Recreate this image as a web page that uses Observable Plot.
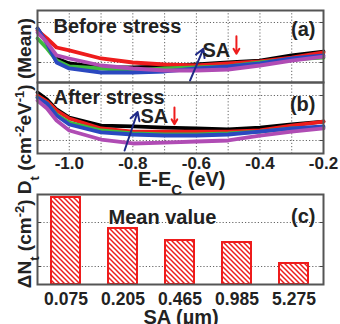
<!DOCTYPE html>
<html><head><meta charset="utf-8">
<script src="https://cdn.jsdelivr.net/npm/d3@7"></script>
<script src="https://cdn.jsdelivr.net/npm/@observablehq/plot@0.6"></script>
<style>
body{margin:0;background:#fff;}
#wrap{position:relative;width:340px;height:324px;overflow:hidden;}
#wrap > *{position:absolute;left:0;}
</style></head><body><div id="wrap"></div>
<script>
// ---- data (Dt in units of 1e11 cm^-2 eV^-1, dNt in 1e11 cm^-2) ----
const energy = [-1.1,-1.07,-1.04,-1.0,-0.9,-0.8,-0.7,-0.6,-0.5,-0.4,-0.3,-0.2];
const saLabels = ["0.075","0.205","0.465","0.985","5.275"];
const seriesColors = ["#000000","#ee1c1c","#3dba3d","#2a48c0","#b04cb4"];

const before_0075 = [7.08,3.16,1.26,0.944,0.750,0.750,0.794,0.891,1.0,1.12,1.50,1.88];
const before_0205 = [6.31,3.98,2.37,2.0,1.26,1.0,0.891,0.841,0.944,1.06,1.33,1.78];
const before_0465 = [3.98,2.24,1.12,0.794,0.708,0.631,0.708,0.750,0.794,1.0,1.19,1.33];
const before_0985 = [7.08,2.99,1.0,0.708,0.562,0.562,0.596,0.708,0.794,0.944,1.26,1.50];
const before_5275 = [5.62,3.16,1.50,1.26,0.841,0.708,0.631,0.631,0.668,0.841,1.12,1.41];

const after_0075 = [11.66,8.15,4.89,3.24,2.15,2.05,1.94,1.85,1.76,1.94,2.27,2.64];
const after_0205 = [10.0,7.36,4.64,3.08,1.85,1.58,1.58,1.58,1.58,1.67,2.15,2.64];
const after_0465 = [9.03,6.64,3.78,2.51,1.67,1.43,1.36,1.36,1.43,1.58,1.85,1.94];
const after_0985 = [9.03,6.64,3.59,2.27,1.51,1.36,1.29,1.29,1.36,1.58,1.85,2.05];
const after_5275 = [7.74,5.14,2.78,1.67,1.05,0.858,0.90,0.95,1.0,1.29,1.58,1.85];

const meanDeltaNt = [37.0,7.31,3.90,3.51,1.17];

const eGrid = [-1.0,-0.9,-0.8,-0.7,-0.6,-0.5,-0.4,-0.3];
const eTicks = [-1.0,-0.8,-0.6,-0.4,-0.2];
const logTicks = [1,10];

// annotation positions (data units)
const arrowsA = [{x1:-0.62,y1:0.35,x2:-0.578,y2:2.2,c:"#1f2a88"},{x1:-0.474,y1:4.5,x2:-0.474,y2:1.65,c:"#ee1c1c"}];
const saA = [{x:-0.581,y:1.35}];
const arrowsB = [{x1:-0.826,y1:0.6,x2:-0.785,y2:4.3,c:"#1f2a88"},{x1:-0.669,y1:5.4,x2:-0.669,y2:2.3,c:"#ee1c1c"}];
const saB = [{x:-0.776,y:2.4}];

// ---- build ----
function tidy(arrs){
  const rows=[];
  arrs.forEach((a,i)=>a.forEach((v,j)=>rows.push({E:energy[j],Dt:v,sa:saLabels[i]})));
  return rows;
}
const rowsBefore = tidy([before_0075,before_0205,before_0465,before_0985,before_5275]);
const rowsAfter = tidy([after_0075,after_0205,after_0465,after_0985,after_5275]);
const bars = saLabels.map((s,i)=>({sa:s,dN:meanDeltaNt[i]}));

const FONT='"Liberation Sans", Arial, sans-serif';
const TXT="#222";
const style={background:"transparent",overflow:"visible",fontFamily:FONT,fontWeight:"bold",color:TXT};
const gridStyle={stroke:"#666",strokeOpacity:1,strokeDasharray:"1.2,2",strokeWidth:1};
const frame=Plot.frame({stroke:"#555",strokeWidth:2});
const fmt = d=>d.toFixed(1);

function linePanel(rows, topLabel, tag, tagDy, arrows, sa, extra){
  return [
    Plot.gridX(eGrid, gridStyle),
    Plot.gridY(logTicks, gridStyle),
    Plot.axisY(logTicks,{anchor:"left",tickSize:-4,tickFormat:()=>"",label:null,stroke:"#444"}),
    Plot.axisY(logTicks,{anchor:"right",tickSize:-4,tickFormat:()=>"",label:null,stroke:"#444"}),
    Plot.line(rows,{x:"E",y:"Dt",z:"sa",stroke:"sa",strokeWidth:3.8,curve:"linear",strokeLinejoin:"round"}),
    Plot.text([topLabel],{frameAnchor:"top-left",textAnchor:"start",lineAnchor:"top",dx:16,dy:topLabel.dy,fontSize:20,fill:TXT,text:d=>d.t}),
    Plot.text([tag],{frameAnchor:"top-right",textAnchor:"end",lineAnchor:"top",dx:-8,dy:tagDy,fontSize:20,fill:TXT,text:d=>d}),
    Plot.arrow(arrows,{x1:"x1",y1:"y1",x2:"x2",y2:"y2",stroke:"c",strokeWidth:2,headLength:7,bend:0}),
    Plot.text(sa,{x:"x",y:"y",text:()=>"SA",textAnchor:"start",lineAnchor:"bottom",fontSize:20,fill:TXT}),
    ...extra,
    frame
  ];
}

const wrap=document.getElementById("wrap");
function put(el,top){ el.style.top=top+"px"; wrap.appendChild(el); return el; }

const plotA = Plot.plot({
  width:340,height:82,marginTop:10,marginBottom:0,marginLeft:37,marginRight:17,style,
  x:{domain:[-1.1,-0.2],axis:null},
  y:{type:"log",domain:[0.316,19.95],axis:null},
  color:{domain:saLabels,range:seriesColors},
  marks:linePanel(rowsBefore,{t:"Before stress",dy:8},"(a)",11,arrowsA,saA,[])
});
put(plotA,0);

const plotB = Plot.plot({
  width:340,height:111,marginTop:0,marginBottom:40,marginLeft:37,marginRight:17,style,
  x:{domain:[-1.1,-0.2],axis:null},
  y:{type:"log",domain:[0.514,19.45],axis:null},
  color:{domain:saLabels,range:seriesColors},
  marks:linePanel(rowsAfter,{t:"After stress",dy:7},"(b)",14,arrowsB,saB,[
    Plot.axisX(eTicks,{anchor:"bottom",tickSize:0,tickPadding:3,tickFormat:fmt,fontSize:17,fontWeight:"bold",label:null,fill:TXT})
  ])
});
put(plotB,82);

const plotC = Plot.plot({
  width:340,height:140,marginTop:10,marginBottom:40,marginLeft:37,marginRight:17,style,
  x:{domain:saLabels,paddingInner:0.485,paddingOuter:0.245,axis:null},
  y:{type:"log",domain:[0.39,43.3],axis:null},
  marks:[
    Plot.gridY(logTicks, gridStyle),
    Plot.axisY(logTicks,{anchor:"left",tickSize:-4,tickFormat:()=>"",label:null,stroke:"#444"}),
    Plot.axisY(logTicks,{anchor:"right",tickSize:-4,tickFormat:()=>"",label:null,stroke:"#444"}),
    Plot.barY(bars,{x:"sa",y1:0.39,y2:"dN",fill:"url(#hatchRed)",stroke:"#ee1c1c",strokeWidth:2}),
    Plot.axisX(saLabels,{anchor:"bottom",tickSize:0,tickPadding:8,fontSize:17.5,fontWeight:"bold",label:null,fill:TXT}),
    Plot.text(["Mean value"],{frameAnchor:"top",lineAnchor:"top",textAnchor:"start",dx:-72,dy:15,fontSize:20,fill:TXT}),
    Plot.text(["(c)"],{frameAnchor:"top-right",textAnchor:"end",lineAnchor:"top",dx:-8,dy:14,fontSize:20,fill:TXT}),
    frame
  ]
});
const svgC = plotC.tagName.toLowerCase()==="svg"?plotC:plotC.querySelector("svg");
svgC.insertAdjacentHTML("afterbegin",'<defs><pattern id="hatchRed" patternUnits="userSpaceOnUse" width="5" height="5"><rect width="5" height="5" fill="#fff"/><path d="M-1,-1 L6,6 M-1,4 L1,6 M4,-1 L6,1" stroke="#ee1c1c" stroke-width="1.5"/></pattern></defs>');
put(plotC,184);

// overlay text (axis titles)
const ns="http://www.w3.org/2000/svg";
const ov=document.createElementNS(ns,"svg");
ov.setAttribute("width",340);ov.setAttribute("height",324);
ov.style.pointerEvents="none";
ov.innerHTML=`<g font-family='${FONT}' font-weight="bold" fill="${TXT}" font-size="19">
<text transform="translate(31,153) rotate(-90)" text-anchor="middle">ΔN<tspan font-size="13" baseline-shift="sub">t</tspan> (cm<tspan font-size="13" baseline-shift="super">-2</tspan>) D<tspan font-size="13" baseline-shift="sub">t</tspan> (cm<tspan font-size="13" baseline-shift="super">-2</tspan>eV<tspan font-size="13" baseline-shift="super">-1</tspan>) (Mean)</text>
<text x="138" y="186" font-size="20">E-E<tspan font-size="15" baseline-shift="sub">C</tspan> (eV)</text>
<text x="181" y="324" font-size="20" text-anchor="middle">SA (µm)</text>
</g>`;
put(ov,0);
</script></body></html>
